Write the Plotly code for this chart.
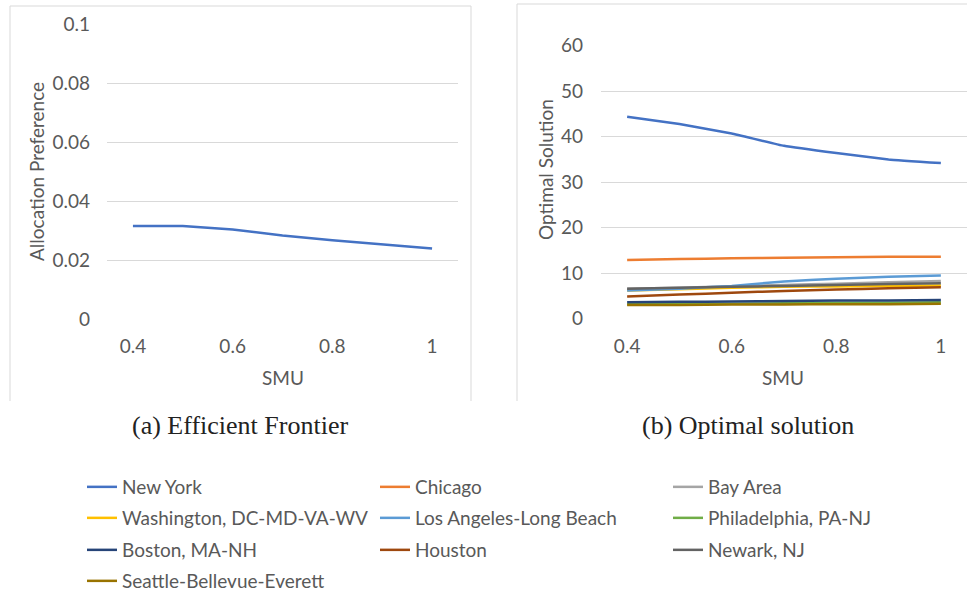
import plotly.graph_objects as go

W, H = 967, 592

# SMU levels on the x axis
smu = [0.4, 0.5, 0.6, 0.7, 0.8, 0.9, 1.0]

# (a) efficient frontier: allocation preference per SMU level
allocation_pref = [0.0316, 0.0316, 0.0304, 0.0284, 0.0268, 0.0253, 0.0240]

# (b) optimal solution per city
cities = [
    "New York", "Chicago", "Bay Area",
    "Washington, DC-MD-VA-WV", "Los Angeles-Long Beach", "Philadelphia, PA-NJ",
    "Boston, MA-NH", "Houston", "Newark, NJ",
    "Seattle-Bellevue-Everett",
]
new_york = [44.4, 42.8, 40.7, 38.0, 36.4, 35.0, 34.2]
chicago = [12.9, 13.1, 13.3, 13.4, 13.5, 13.6, 13.6]
bay_area = [6.6, 6.8, 7.1, 7.4, 7.7, 8.0, 8.3]
washington = [6.2, 6.5, 6.8, 7.0, 7.1, 7.2, 7.3]
los_angeles = [6.2, 6.6, 7.2, 8.2, 8.8, 9.2, 9.5]
philadelphia = [3.2, 3.3, 3.3, 3.4, 3.5, 3.5, 3.6]
boston = [3.6, 3.7, 3.8, 3.9, 4.0, 4.0, 4.1]
houston = [4.9, 5.3, 5.7, 6.1, 6.4, 6.7, 6.9]
newark = [6.6, 6.8, 7.0, 7.2, 7.4, 7.6, 7.8]
seattle = [3.0, 3.0, 3.1, 3.1, 3.2, 3.2, 3.3]
city_values = [new_york, chicago, bay_area, washington, los_angeles,
               philadelphia, boston, houston, newark, seattle]
city_colors = ["#4472C4", "#ED7D31", "#A5A5A5", "#FFC000", "#5B9BD5",
               "#70AD47", "#264478", "#9E480E", "#636363", "#997300"]

x_ticks = [0.4, 0.6, 0.8, 1.0]
x_ticktext = ["0.4", "0.6", "0.8", "1"]
yl_ticks = [0, 0.02, 0.04, 0.06, 0.08, 0.1]
yl_ticktext = ["0", "0.02", "0.04", "0.06", "0.08", "0.1"]
yr_ticks = [0, 10, 20, 30, 40, 50, 60]

FONT = "Lato"
TXT = "#595959"
GRID = "#D9D9D9"


def px_x(p):
    return p / W


def px_y(p):
    return 1 - p / H


fig = go.Figure()

fig.add_trace(go.Scatter(
    x=smu, y=allocation_pref, mode="lines", xaxis="x", yaxis="y",
    line=dict(color="#4472C4", width=2.5),
    showlegend=False, name="Allocation Preference"))

# legend rows: three entries per row
legend_rows = ["legend", "legend2", "legend3", "legend4"]
for i, (name, vals, col) in enumerate(zip(cities, city_values, city_colors)):
    fig.add_trace(go.Scatter(
        x=smu, y=vals, mode="lines", xaxis="x2", yaxis="y2", name=name,
        line=dict(color=col, width=2.5, shape="spline", smoothing=0.3),
        legend=legend_rows[i // 3]))

axis_common = dict(showline=False, zeroline=False, ticks="",
                   tickfont=dict(family=FONT, size=19, color=TXT))

fig.update_layout(
    width=W, height=H,
    margin=dict(l=0, r=0, t=0, b=0, autoexpand=False),
    paper_bgcolor="white", plot_bgcolor="white",
    xaxis=dict(domain=[px_x(107), px_x(458)], range=[0.348, 1.052],
               tickvals=x_ticks, ticktext=x_ticktext, showgrid=False,
               anchor="y", ticklabelstandoff=14, **axis_common),
    yaxis=dict(domain=[px_y(319.3), px_y(24)], range=[0, 0.1],
               tickvals=yl_ticks, ticktext=yl_ticktext, showgrid=True,
               gridcolor=GRID, gridwidth=1, anchor="x",
               ticklabelstandoff=16, **axis_common),
    xaxis2=dict(domain=[px_x(601), 1.0], range=[0.35, 1.05],
                tickvals=x_ticks, ticktext=x_ticktext, showgrid=False,
                anchor="y2", ticklabelstandoff=14, **axis_common),
    yaxis2=dict(domain=[px_y(318.7), px_y(45.7)], range=[0, 60],
                tickvals=yr_ticks, showgrid=True, gridcolor=GRID, gridwidth=1,
                anchor="x2", ticklabelstandoff=17, **axis_common),
)

legend_centers = [487, 518, 550, 581]
for key, yc in zip(legend_rows, legend_centers):
    fig.update_layout({key: dict(
        orientation="h", x=px_x(82), xanchor="left",
        y=px_y(yc), yanchor="middle", entrywidth=248, entrywidthmode="pixels",
        font=dict(family=FONT, size=19, color=TXT), itemwidth=30,
        bgcolor="rgba(0,0,0,0)", borderwidth=0,
        traceorder="normal", tracegroupgap=0)})

# axis titles and captions
notes = [
    ("SMU", 283, 377, 0, FONT, 19, TXT),
    ("SMU", 783, 377, 0, FONT, 19, TXT),
    ("Allocation Preference", 36, 172, -90, FONT, 19, TXT),
    ("Optimal Solution", 545, 170, -90, FONT, 19, TXT),
    ("(a) Efficient Frontier", 240, 425, 0, "Liberation Serif", 26, "#222222"),
    ("(b) Optimal solution", 748, 425, 0, "Liberation Serif", 26, "#222222"),
]
for text, x, y, ang, fam, size, col in notes:
    fig.add_annotation(text=text, x=px_x(x), y=px_y(y), xref="paper",
                       yref="paper", showarrow=False, textangle=ang,
                       xanchor="center", yanchor="middle",
                       font=dict(family=fam, size=size, color=col))

# chart-area borders of both panels
border = dict(color=GRID, width=1)
for x0, x1, top in [(10, 471, 6), (517, 980, 4)]:
    fig.add_shape(type="line", xref="paper", yref="paper", x0=px_x(x0),
                  x1=px_x(x0), y0=px_y(401), y1=px_y(top), line=border)
    fig.add_shape(type="line", xref="paper", yref="paper", x0=px_x(x0),
                  x1=min(px_x(x1), 1.0), y0=px_y(top), y1=px_y(top), line=border)
fig.add_shape(type="line", xref="paper", yref="paper", x0=px_x(471),
              x1=px_x(471), y0=px_y(401), y1=px_y(6), line=border)

fig.write_html("out.html")
